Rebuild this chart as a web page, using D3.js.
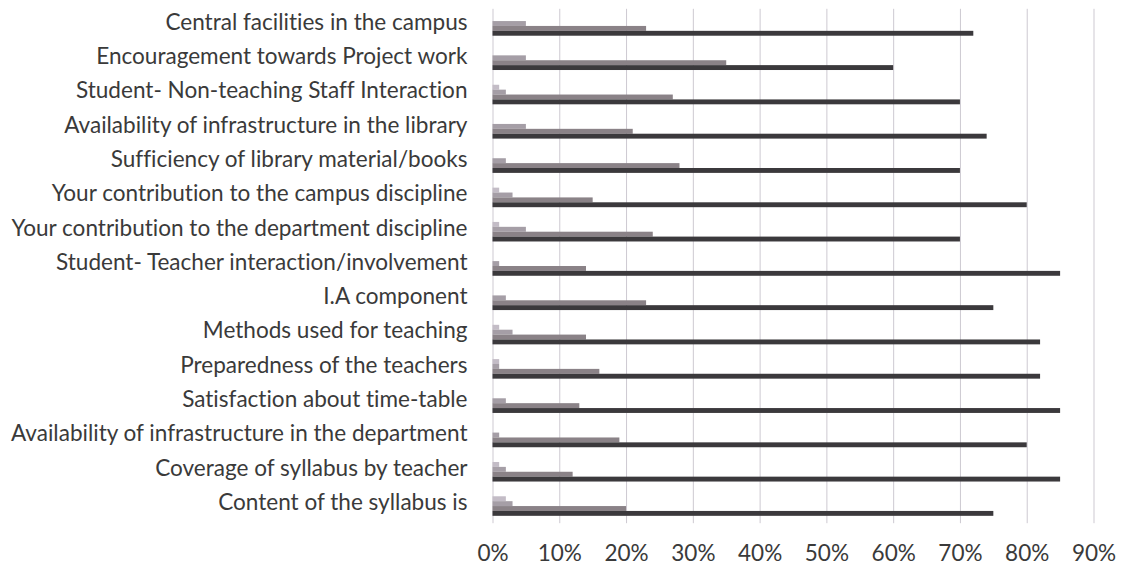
<!DOCTYPE html>
<html>
<head>
<meta charset="utf-8">
<script src="https://cdn.jsdelivr.net/npm/d3@7"></script>
<style>
  body { margin: 0; background: #ffffff; }
  text { font-family: Lato, "Open Sans", sans-serif; fill: #3a3a3a; font-variant-ligatures: none; }
</style>
</head>
<body>
<div id="chart"></div>
<script>
// Categories from top to bottom
const categories = [
    "Central facilities in the campus",
    "Encouragement towards Project work",
    "Student- Non-teaching Staff Interaction",
    "Availability of infrastructure in the library",
    "Sufficiency of library material/books",
    "Your contribution to the campus discipline",
    "Your contribution to the department discipline",
    "Student- Teacher interaction/involvement",
    "I.A component",
    "Methods used for teaching",
    "Preparedness of the teachers",
    "Satisfaction about time-table",
    "Availability of infrastructure in the department",
    "Coverage of syllabus by teacher",
    "Content of the syllabus is"
];

// Four response series (percent), top bar of each group first
const seriesLightest = [0, 0, 1, 0, 0, 1, 1, 0, 0, 1, 1, 0, 0, 1, 2];
const seriesLight    = [5, 5, 2, 5, 2, 3, 5, 1, 2, 3, 1, 2, 1, 2, 3];
const seriesMedium   = [23, 35, 27, 21, 28, 15, 24, 14, 23, 14, 16, 13, 19, 12, 20];
const seriesDark     = [72, 60, 70, 74, 70, 80, 70, 85, 75, 82, 82, 85, 80, 85, 75];

const seriesKeys = ["lightest", "light", "medium", "dark"];
const seriesColors = ["#c3bcc6", "#a59ea6", "#8a8287", "#3b393c"];

const xTicks = [0, 10, 20, 30, 40, 50, 60, 70, 80, 90];

// build rows for drawing
const rows = categories.map((c, i) => ({
    category: c,
    values: [seriesLightest[i], seriesLight[i], seriesMedium[i], seriesDark[i]]
}));

const width = 1123, height = 571;
const margin = {top: 8.8, right: 29.5, bottom: 47.8, left: 492.5};
const innerW = width - margin.left - margin.right;
const innerH = height - margin.top - margin.bottom;

let svg = d3.select("#chart")
    .append("svg")
    .attr("width", width)
    .attr("height", height)
    .append("g")
    .attr("transform", `translate(${margin.left}, ${margin.top})`);

let x = d3.scaleLinear()
    .domain([0, 90])
    .range([0, innerW]);

let y = d3.scaleBand()
    .domain(categories)
    .range([0, innerH])
    .paddingInner(0.43)
    .paddingOuter(0.215);

let ySub = d3.scaleBand()
    .domain(seriesKeys)
    .range([0, y.bandwidth()]);

// vertical gridlines
svg.append("g")
    .attr("class", "grid")
    .call(d3.axisBottom(x).tickValues(xTicks).tickSize(innerH).tickFormat(""))
    .call(g => g.select(".domain").remove())
    .selectAll("line")
        .attr("stroke", "#cdc9d1")
        .attr("stroke-width", 1);

// bars
let groups = svg.selectAll(".row")
    .data(rows)
    .enter()
    .append("g")
    .attr("class", "row")
    .attr("transform", d => `translate(0, ${y(d.category)})`);

groups.selectAll("rect")
    .data(d => d.values.map((v, i) => ({key: seriesKeys[i], value: v, color: seriesColors[i]})))
    .enter()
    .append("rect")
        .attr("x", x(0))
        .attr("y", d => ySub(d.key))
        .attr("width", d => x(d.value) - x(0))
        .attr("height", ySub.bandwidth())
        .style("fill", d => d.color);

// category labels
let yAxis = svg.append("g")
    .call(d3.axisLeft(y).tickSize(0).tickPadding(25))
    .call(g => g.select(".domain").remove());
yAxis.selectAll("text")
    .style("font-size", "19px")
    .attr("dy", "0.17em");

// fit label size to the original's label width
let longest = d3.max(yAxis.selectAll("text").nodes(), n => n.getComputedTextLength());
let labelSize = 19 * 457 / longest;
yAxis.selectAll("text").style("font-size", labelSize + "px");

// percent tick labels
let xAxis = svg.append("g")
    .attr("transform", `translate(0, ${innerH})`)
    .call(d3.axisBottom(x).tickValues(xTicks).tickSize(0).tickPadding(22).tickFormat(d => d + "%"))
    .call(g => g.select(".domain").remove());
xAxis.selectAll("text")
    .style("font-size", labelSize + "px");
</script>
</body>
</html>
